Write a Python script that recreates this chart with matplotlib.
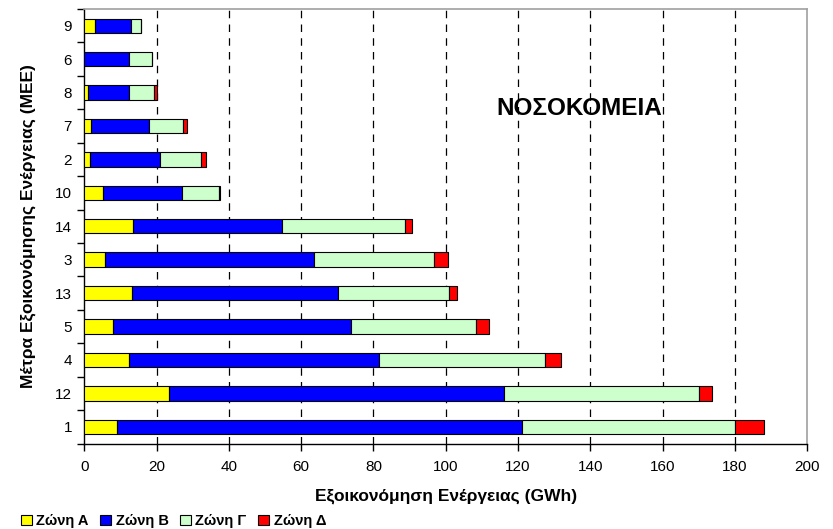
import numpy as np
import matplotlib.pyplot as plt
from matplotlib.patches import Patch

plt.rcParams['font.family'] = ['Liberation Sans', 'DejaVu Sans']

# measures, listed bottom to top
MEASURES = ['1', '12', '4', '5', '13', '3', '14', '10', '2', '7', '8', '6', '9']

ZONE_A = [9.0, 23.3, 12.2, 7.8, 13.1, 5.7, 13.5, 5.1, 1.4, 1.7, 1.1, 0.0, 2.8]
ZONE_B = [112.1, 92.7, 69.2, 65.9, 57.0, 57.7, 41.2, 22.0, 19.6, 16.1, 11.3, 12.3, 10.2]
ZONE_C = [59.1, 54.1, 46.1, 34.6, 30.9, 33.4, 33.9, 10.2, 11.3, 9.5, 6.8, 6.5, 2.7]
ZONE_D = [8.0, 3.7, 4.5, 3.7, 2.0, 3.7, 2.1, 0.3, 1.4, 1.2, 0.9, 0.0, 0.0]

ZONE_NAMES = ['Ζώνη Α', 'Ζώνη Β', 'Ζώνη Γ', 'Ζώνη Δ']
COLORS = ['#ffff00', '#0000ff', '#ccffcc', '#ff0000']


def draw():
    fig = plt.figure(figsize=(8.33, 5.29), dpi=100)
    ax = fig.add_axes([0.1014, 0.1616, 0.8674, 0.8214])

    y = np.arange(len(MEASURES))
    left = np.zeros(len(MEASURES))
    for vals, color in zip([ZONE_A, ZONE_B, ZONE_C, ZONE_D], COLORS):
        vals = np.array(vals)
        ax.barh(y, vals, left=left, height=0.43, color=color,
                edgecolor='black', linewidth=0.8, zorder=3)
        left += vals

    ax.set_xlim(0, 200)
    ax.set_ylim(-0.5, len(MEASURES) - 0.5)
    ax.set_xticks(np.arange(0, 201, 20))
    ax.set_yticks(y)
    ax.set_yticklabels(MEASURES)
    ax.set_yticks(np.arange(-0.5, len(MEASURES), 1), minor=True)
    ax.tick_params(axis='y', which='major', length=0, pad=9, labelsize=11)
    ax.tick_params(axis='y', which='minor', length=5, width=1, direction='out')
    ax.tick_params(axis='x', length=5, width=1, direction='out', pad=7, labelsize=11)

    for xv in range(20, 200, 20):
        ax.axvline(xv, color='black', linestyle=(0, (6, 5)), linewidth=0.9, zorder=1)

    for side in ['top', 'right']:
        ax.spines[side].set_color('#a0a0a0')
        ax.spines[side].set_linewidth(1.2)
    for side in ['left', 'bottom']:
        ax.spines[side].set_linewidth(1.0)

    ax.set_xlabel('Εξοικονόμηση Ενέργειας (GWh)', fontsize=12.5, fontweight='bold', labelpad=10)
    ax.set_ylabel('Μέτρα Εξοικονόμησης Ενέργειας (ΜΕΕ)', fontsize=12.5, fontweight='bold', labelpad=14)

    ax.text(0.685, 0.771, 'ΝΟΣΟΚΟΜΕΙΑ', transform=ax.transAxes, ha='center', va='center',
            fontsize=17.5, fontweight='bold', zorder=4)

    handles = [Patch(facecolor=c, edgecolor='black', linewidth=0.8) for c in COLORS]
    fig.legend(handles, ZONE_NAMES, loc='center left', bbox_to_anchor=(0.018, 0.015),
               ncol=4, frameon=False, handlelength=0.75, handleheight=0.75,
               handletextpad=0.3, columnspacing=0.8, borderaxespad=0,
               prop={'weight': 'bold', 'size': 10.5})

    fig.savefig('out.png', dpi=100)


if __name__ == '__main__':
    draw()
